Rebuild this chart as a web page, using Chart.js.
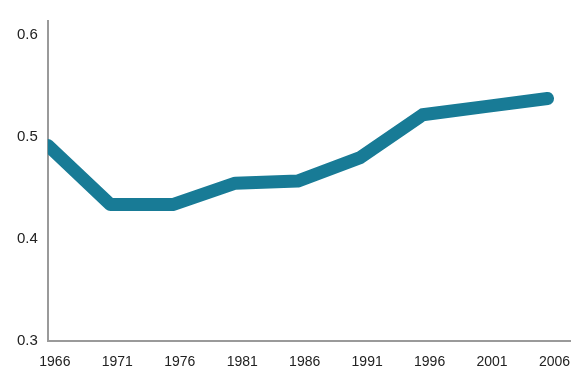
<!DOCTYPE html>
<html>
<head>
<meta charset="utf-8">
<script src="https://cdn.jsdelivr.net/npm/chart.js@4/dist/chart.umd.min.js"></script>
<style>
html,body{margin:0;padding:0;background:#fff;}
#wrap{width:586px;height:382px;}
</style>
</head>
<body>
<div id="wrap"><canvas id="c" width="586" height="382"></canvas></div>
<script>
const years = [1966, 1971, 1976, 1981, 1986, 1991, 1996, 2001, 2006];
const values = [0.492, 0.434, 0.434, 0.455, 0.457, 0.480, 0.522, 0.530, 0.538];
const yTicks = [0.3, 0.4, 0.5, 0.6];

new Chart(document.getElementById('c'), {
  type: 'line',
  data: {
    datasets: [{
      data: years.map((y, i) => ({x: y, y: values[i]})),
      borderColor: '#187b96',
      borderWidth: 13,
      borderCapStyle: 'round',
      borderJoinStyle: 'round',
      pointRadius: 0,
      tension: 0,
      fill: false
    }]
  },
  options: {
    responsive: false,
    animation: false,
    events: [],
    layout: {padding: {left: 15, right: 16, top: 21, bottom: 6}},
    plugins: {legend: {display: false}, tooltip: {enabled: false}},
    scales: {
      x: {
        type: 'linear',
        min: 1966,
        max: 2007.8,
        grid: {display: false},
        border: {display: true, color: '#9a9a9a', width: 2},
        afterBuildTicks: (s) => { s.ticks = years.map(v => ({value: v})); },
        ticks: {
          padding: 5,
          labelOffset: 7,
          maxRotation: 0,
          autoSkip: false,
          color: '#222',
          font: {family: 'Liberation Sans, Arial, sans-serif', size: 14},
          callback: (v) => String(v)
        }
      },
      y: {
        min: 0.3,
        max: 0.614,
        grid: {display: false},
        border: {display: true, color: '#9a9a9a', width: 2},
        afterBuildTicks: (s) => { s.ticks = yTicks.map(v => ({value: v})); },
        ticks: {
          padding: 2,
          color: '#222',
          font: {family: 'Liberation Sans, Arial, sans-serif', size: 15},
          callback: (v) => v.toFixed(1)
        }
      }
    }
  }
});
</script>
</body>
</html>
